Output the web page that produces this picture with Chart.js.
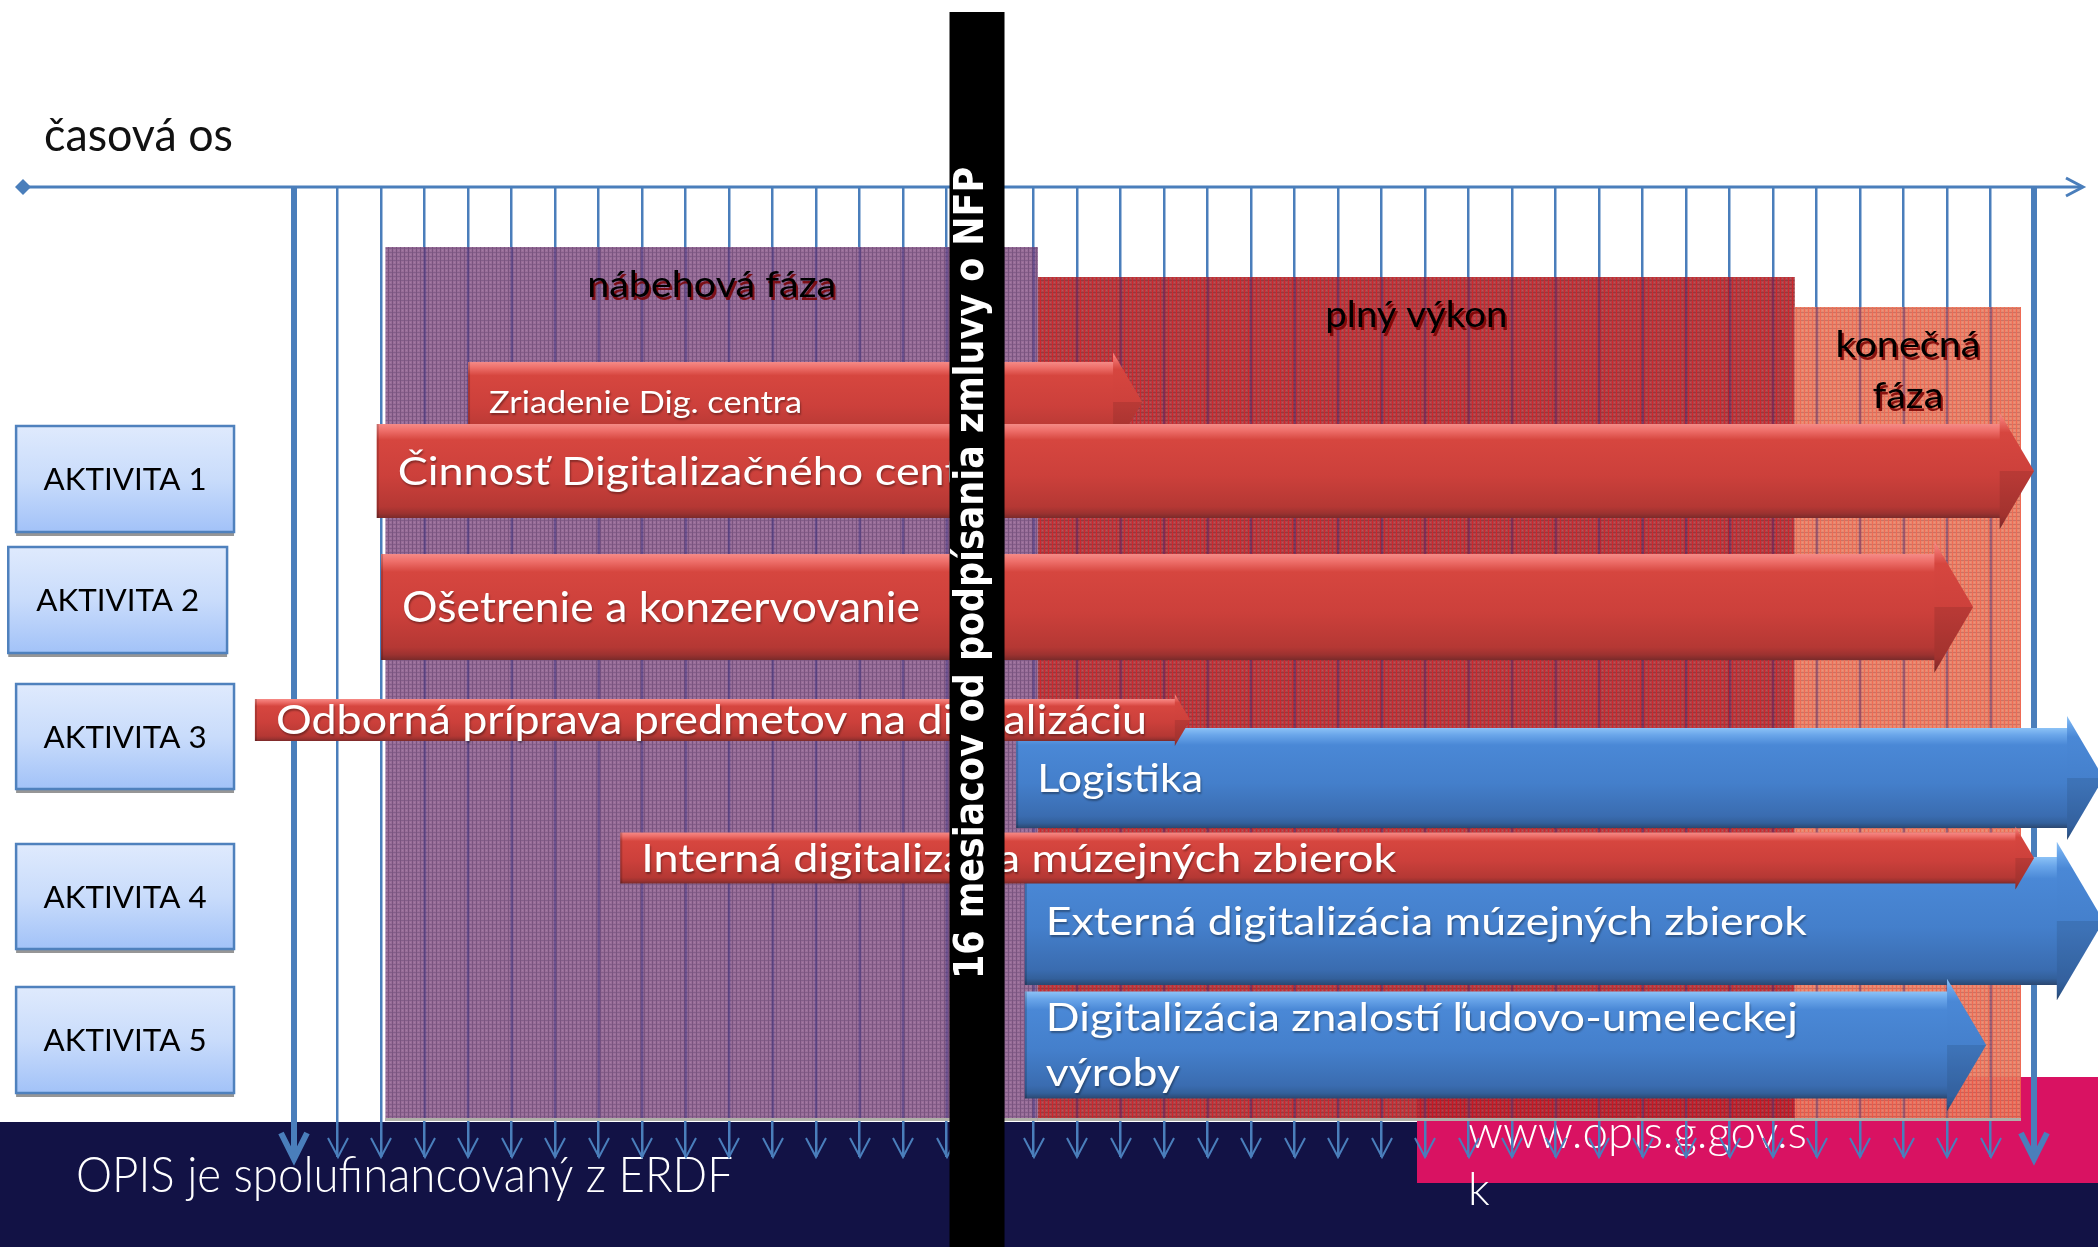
<!DOCTYPE html>
<html lang="sk"><head><meta charset="utf-8"><title>časová os</title>
<script src="https://cdn.jsdelivr.net/npm/chart.js@4.4.1/dist/chart.umd.min.js"></script>
<style>html,body{margin:0;padding:0;background:#fff;overflow:hidden}canvas{display:block}</style>
</head><body>
<canvas id="chart" width="2098" height="1247" style="width:2098px;height:1247px"></canvas>
<script>
// ================= DATA =================
const monthTicks = [0,1,2,3,4,5,6,7,8,9,10,11,12,13,14,15,16,17,18,19,20,21,22,23,24,25,26,27,28,29,30,31,32,33,34,35,36,37,38,39,40];
const phaseNames = ['nábehová fáza', 'plný výkon', 'konečná fáza'];
const phaseFrom  = [2.1, 17.1, 34.5];
const phaseTo    = [17.1, 34.5, 39.7];
const activityNames = ['AKTIVITA 1', 'AKTIVITA 2', 'AKTIVITA 3', 'AKTIVITA 4', 'AKTIVITA 5'];
const taskNames = [
  'Zriadenie Dig. centra',
  'Činnosť Digitalizačného centra',
  'Ošetrenie a konzervovanie',
  'Odborná príprava predmetov na digitalizáciu',
  'Logistika',
  'Interná digitalizácia múzejných zbierok',
  'Externá digitalizácia múzejných zbierok',
  'Digitalizácia znalostí ľudovo-umeleckej výroby'
];
const taskActivity = [1, 1, 2, 3, 3, 4, 4, 5];
const taskStart = [4.0, 1.9, 2.0, -0.9, 16.6, 7.5, 16.8, 16.8];
const taskEnd   = [19.5, 40.0, 38.6, 20.6, 41.6, 40.0, 41.6, 38.9];
const milestoneMonth = [15.7];
const milestoneLabel = ['16 mesiacov od podpísania zmluvy o NFP'];
const axisTitle = 'časová os';
const footerText = 'OPIS je spolufinancovaný z ERDF';
const urlLines = ['www.opis.g.gov.s', 'k'];

// ================= LAYOUT / STYLE =================
const L = {
  xMin: -6.76, xMax: 41.47, yMax: 97, padTop: 187, padBottom: 90,
  lane:  [21.5, 28.4, 42.0, 53.3, 59.1, 67.1, 73.4, 85.8],
  thick: [8.0, 9.4, 10.6, 4.2, 10.0, 5.1, 12.8, 10.7],
  color: ['red','red','red','red','blue','red','blue','blue'],
  drawOrder: [0, 1, 2, 4, 6, 7, 3, 5],
  textSize: [31, 39, 42, 40, 39, 38, 39, 39],
  textW:    [313, 547, 518, 871, 166, 755, 761, 752],
  textRef:  [null, 'Činnosť Digitalizačného cen', null, null, null, null, null, null],
  textLines:[1,1,1,1,1,1,1,2],
  lineGap: 5.5, textPad: 21,
  phaseTop: [6.0, 9.0, 12.0], phaseBottom: 93.4,
  phaseLabelDy: 5.0, phaseLineGap: 5.1,
  phaseLabelW: [249, 182, 145],
  boxes: [[-6.39,-1.38,23.9,34.5],[-6.57,-1.54,36.0,46.6],[-6.39,-1.38,49.7,60.2],[-6.39,-1.38,65.7,76.2],[-6.39,-1.38,80.0,90.6]],
  barW: 55, barTop: 12
};
const C = {
  line: '#4a7ebb', navy: '#121245', pink: '#d91262',
  red:  [[0,'#f58a86'],[0.07,'#ee6f6a'],[0.17,'#d6463f'],[0.55,'#cc403b'],[0.88,'#b53834'],[0.95,'#9c3230'],[1,'#7a2a2a']],
  blue: [[0,'#8cc2f6'],[0.07,'#6aa6ea'],[0.17,'#4a88d6'],[0.55,'#447fcb'],[0.88,'#3a6cb0'],[0.95,'#33609b'],[1,'#2b4770']]
};
const SANS = 'Lato, "Open Sans", sans-serif';

function drawText(ctx, text, x, base, o) {
  ctx.save();
  ctx.font = (o.weight || 'normal') + ' ' + o.size + 'px ' + (o.family || SANS);
  ctx.fillStyle = o.color || '#000';
  ctx.textBaseline = 'alphabetic';
  ctx.textAlign = 'left';
  let sx = o.sx || 1;
  if (o.fitW) { sx = o.fitW / ctx.measureText(o.fitRef || text).width; }
  const w = ctx.measureText(text).width * sx;
  let left = x;
  if (o.align === 'center') left = x - w / 2;
  if (o.shadow) { ctx.shadowColor = o.shadow; ctx.shadowOffsetX = o.sox || 1; ctx.shadowOffsetY = o.soy || 2; ctx.shadowBlur = o.sb || 0; }
  ctx.translate(left, base); ctx.scale(sx, 1); ctx.fillText(text, 0, 0);
  ctx.restore();
  return sx;
}
function makePattern(ctx, base, col, row, size) {
  const c = document.createElement('canvas'); c.width = c.height = size;
  const g = c.getContext('2d');
  g.fillStyle = base; g.fillRect(0, 0, size, size);
  g.fillStyle = row; g.fillRect(0, 0, size, 1);
  g.fillStyle = col; g.fillRect(0, 0, 1, size);
  g.fillStyle = 'rgba(255,255,255,0.10)'; g.fillRect(2, 2, 1, 1);
  return ctx.createPattern(c, 'repeat');
}
function grad(ctx, y0, y1, stops) {
  const g = ctx.createLinearGradient(0, y0, 0, y1);
  stops.forEach(s => g.addColorStop(s[0], s[1]));
  return g;
}

const ganttPlugin = {
  id: 'gantt',
  beforeDraw(chart) {
    const {ctx, width, height, chartArea} = chart;
    ctx.save();
    ctx.fillStyle = '#fff'; ctx.fillRect(0, 0, width, height);
    // footer band and web box
    ctx.fillStyle = C.navy; ctx.fillRect(0, 1122, width, height - 1122);
    ctx.fillStyle = C.pink; ctx.fillRect(1417, 1077, width - 1417, 106);
    drawText(ctx, footerText, 76, 1192, {size: 50, weight: 300, color: '#ffffff', fitW: 657});
    const usx = drawText(ctx, urlLines[0], 1468, 1148, {size: 46, weight: 300, color: '#ffffff', fitW: 339});
    drawText(ctx, urlLines[1], 1468, 1205, {size: 46, weight: 300, color: '#ffffff', sx: usx});
    // axis title
    drawText(ctx, axisTitle, 44, 151, {size: 46, color: '#111', fitW: 189});
    // timeline axis line
    const ay = chartArea.top;
    ctx.strokeStyle = C.line; ctx.lineWidth = 3;
    ctx.beginPath(); ctx.moveTo(23, ay); ctx.lineTo(2082, ay); ctx.stroke();
    ctx.beginPath(); ctx.moveTo(2066, ay - 9); ctx.lineTo(2083, ay); ctx.lineTo(2066, ay + 9); ctx.stroke();
    ctx.fillStyle = C.line;
    ctx.beginPath(); ctx.moveTo(15, ay); ctx.lineTo(23, ay - 8); ctx.lineTo(31, ay); ctx.lineTo(23, ay + 8); ctx.closePath(); ctx.fill();
    ctx.restore();
  },
  beforeDatasetsDraw(chart) {
    const {ctx, chartArea} = chart;
    const xs = chart.scales.x, ys = chart.scales.y;
    ctx.save();
    // arrow heads of month lines
    ctx.strokeStyle = C.line; ctx.lineJoin = 'miter';
    monthTicks.forEach(m => {
      const px = Math.round(xs.getPixelForValue(m));
      const thick = (m === monthTicks[0] || m === monthTicks[monthTicks.length - 1]);
      const b = chartArea.bottom;
      ctx.lineWidth = thick ? 6 : 2;
      const hw = thick ? 13 : 10, hl = thick ? 24 : 19;
      ctx.beginPath(); ctx.moveTo(px - hw, b - hl); ctx.lineTo(px, b + (thick ? 2 : 0)); ctx.lineTo(px + hw, b - hl); ctx.stroke();
    });
    // phases
    const pats = [
      makePattern(ctx, 'rgb(146,100,146)', 'rgb(112,72,118)', 'rgb(122,82,128)', 4),
      makePattern(ctx, 'rgb(172,52,58)', 'rgb(204,22,28)', 'rgb(140,42,48)', 4),
      makePattern(ctx, 'rgb(232,126,100)', 'rgb(238,96,72)', 'rgb(198,104,88)', 4)
    ];
    const pb = ys.getPixelForValue(L.phaseBottom);
    phaseNames.forEach((n, i) => {
      const x0 = xs.getPixelForValue(phaseFrom[i]), x1 = xs.getPixelForValue(phaseTo[i]);
      const y0 = ys.getPixelForValue(L.phaseTop[i]);
      ctx.globalAlpha = 0.93;
      ctx.fillStyle = pats[i]; ctx.fillRect(x0, y0, x1 - x0, pb - y0);
      ctx.globalAlpha = 1;
      ctx.strokeStyle = 'rgba(60,50,130,0.40)';
      monthTicks.forEach(m => {
        const px = Math.round(xs.getPixelForValue(m));
        if (px > x0 && px < x1) { ctx.lineWidth = 2.5; ctx.beginPath(); ctx.moveTo(px, y0); ctx.lineTo(px, pb); ctx.stroke(); }
      });
      ctx.fillStyle = 'rgb(176,176,168)'; ctx.fillRect(x0, pb - 3, x1 - x0, 3);
    });
    // phase labels
    phaseNames.forEach((n, i) => {
      const cx = xs.getPixelForValue((phaseFrom[i] + phaseTo[i]) / 2);
      const base = ys.getPixelForValue(L.phaseTop[i] + L.phaseLabelDy);
      const lines = (i === 2) ? n.split(' ') : [n];
      let sx = null;
      lines.forEach((ln, k) => {
        const o = {size: 36, color: '#000', align: 'center', shadow: 'rgba(120,0,0,0.85)', sox: 2, soy: 3};
        if (sx === null) o.fitW = L.phaseLabelW[i]; else o.sx = sx;
        const s = drawText(ctx, ln, cx, base + k * (ys.getPixelForValue(L.phaseLineGap) - ys.getPixelForValue(0)), o);
        if (sx === null) sx = s;
      });
    });
    // activity boxes
    activityNames.forEach((n, i) => {
      const b = L.boxes[i];
      const x0 = xs.getPixelForValue(b[0]), x1 = xs.getPixelForValue(b[1]);
      const y0 = ys.getPixelForValue(b[2]), y1 = ys.getPixelForValue(b[3]);
      ctx.fillStyle = 'rgb(150,150,150)'; ctx.fillRect(x0, y1, x1 - x0, 4);
      ctx.fillStyle = grad(ctx, y0, y1, [[0, '#dfeafd'], [0.5, '#c9dcfb'], [1, '#a2c2f8']]);
      ctx.fillRect(x0, y0, x1 - x0, y1 - y0);
      ctx.strokeStyle = '#4f81bd'; ctx.lineWidth = 2.5; ctx.strokeRect(x0, y0, x1 - x0, y1 - y0);
      drawText(ctx, n, (x0 + x1) / 2, (y0 + y1) / 2 + 11, {size: 31, color: '#000', align: 'center', fitW: 163});
    });
    ctx.restore();
  },
  afterDatasetsDraw(chart) {
    const {ctx, height} = chart;
    const xs = chart.scales.x, ys = chart.scales.y;
    const meta = chart.getDatasetMeta(0);
    const unit = Math.abs(ys.getPixelForValue(1) - ys.getPixelForValue(0));
    ctx.save();
    L.drawOrder.forEach(i => {
      const el = meta.data[i];
      const p = el.getProps(['x', 'y', 'base'], true);
      const x0 = Math.min(p.x, p.base), x1 = Math.max(p.x, p.base), yc = p.y;
      const half = L.thick[i] * unit / 2;
      const hh = half * 1.24, hl = hh * 0.59, xb = x1 - hl;
      const stops = C[L.color[i]];
      ctx.fillStyle = grad(ctx, yc - half, yc + half, stops);
      ctx.fillRect(x0, yc - half, xb - x0 + 1, half * 2);
      ctx.fillStyle = grad(ctx, yc - hh, yc + hh, stops);
      ctx.beginPath(); ctx.moveTo(xb, yc - hh); ctx.lineTo(x1, yc); ctx.lineTo(xb, yc + hh); ctx.closePath(); ctx.fill();
      ctx.fillStyle = 'rgba(0,0,0,0.10)';
      ctx.beginPath(); ctx.moveTo(xb, yc); ctx.lineTo(x1, yc); ctx.lineTo(xb, yc + hh); ctx.closePath(); ctx.fill();
      ctx.fillStyle = 'rgba(0,0,0,0.18)'; ctx.fillRect(x0, yc - half, 2, half * 2);
      const size = L.textSize[i], cap = size * 0.7165;
      const tx = x0 + L.textPad;
      const txtOpt = {size: size, color: '#ffffff', fitW: L.textW[i], fitRef: L.textRef[i], shadow: 'rgba(0,0,0,0.35)', sox: 1, soy: 2, sb: 2};
      if (L.textLines[i] === 1) {
        drawText(ctx, taskNames[i], tx, yc + cap / 2, txtOpt);
      } else {
        const words = taskNames[i].split(' ');
        const l2 = words.pop(), l1 = words.join(' ');
        const gap = L.lineGap * unit;
        const sx = drawText(ctx, l1, tx, yc - gap / 2 + cap / 2, txtOpt);
        drawText(ctx, l2, tx, yc + gap / 2 + cap / 2, {size: size, color: '#ffffff', sx: sx, shadow: 'rgba(0,0,0,0.35)', sox: 1, soy: 2, sb: 2});
      }
    });
    // milestone bar
    const mx = xs.getPixelForValue(milestoneMonth[0]);
    ctx.fillStyle = '#000';
    ctx.fillRect(mx - L.barW / 2, L.barTop, L.barW, height - L.barTop);
    ctx.save();
    ctx.translate(mx - 9, 573); ctx.rotate(-Math.PI / 2);
    ctx.font = 'bold 40px "DejaVu Sans", Verdana, sans-serif';
    const w = ctx.measureText(milestoneLabel[0]).width;
    ctx.scale(812 / w, 1);
    ctx.fillStyle = '#fff'; ctx.textAlign = 'center'; ctx.textBaseline = 'alphabetic';
    ctx.fillText(milestoneLabel[0], 0, 40 * 0.729 / 2);
    ctx.restore();
    ctx.restore();
  }
};

new Chart(document.getElementById('chart').getContext('2d'), {
  type: 'bar',
  data: {
    datasets: [{
      label: 'Aktivity',
      data: taskNames.map((n, i) => ({x: [taskStart[i], taskEnd[i]], y: L.lane[i]})),
      backgroundColor: 'rgba(0,0,0,0)', borderWidth: 0, barThickness: 1, grouped: false
    }]
  },
  options: {
    indexAxis: 'y', responsive: false, animation: false, events: [],
    layout: {padding: {top: L.padTop, bottom: L.padBottom, left: 0, right: 0}},
    scales: {
      x: {
        type: 'linear', position: 'top', min: L.xMin, max: L.xMax, offset: false,
        afterBuildTicks: s => { s.ticks = monthTicks.map(v => ({value: v})); },
        ticks: {display: false},
        grid: {drawTicks: false, offset: false, color: C.line,
          lineWidth: c => (c.tick && (c.tick.value === monthTicks[0] || c.tick.value === monthTicks[monthTicks.length - 1])) ? 6 : 2.5},
        border: {display: false}
      },
      y: {type: 'linear', display: false, min: 0, max: L.yMax, reverse: true, offset: false, grid: {offset: false}}
    },
    plugins: {legend: {display: false}, tooltip: {enabled: false}}
  },
  plugins: [ganttPlugin]
});
</script>
</body></html>
